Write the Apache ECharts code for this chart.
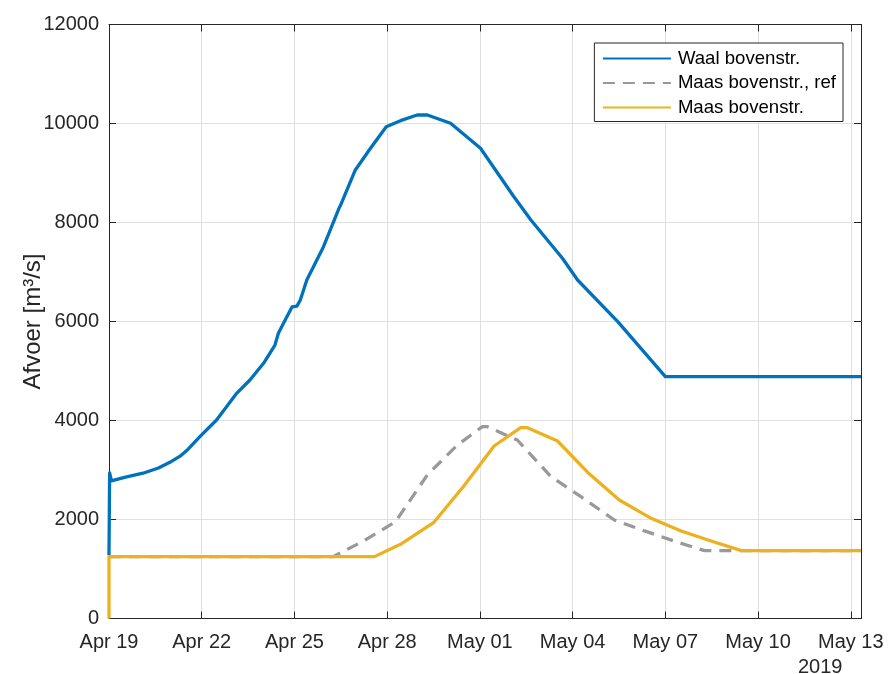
<!DOCTYPE html>
<html>
<head>
<meta charset="utf-8">
<script src="https://cdn.jsdelivr.net/npm/echarts@6/dist/echarts.min.js"></script>
<style>
  html, body { margin: 0; padding: 0; background: #fff; }
  #chart { width: 888px; height: 674px; }
</style>
</head>
<body>
<div id="chart"></div>
<script>
// Time is counted in days since 19 April 2019 00:00 (UTC)
const startDate = Date.UTC(2019, 3, 19);
const monthNames = ['Jan', 'Feb', 'Mar', 'Apr', 'May', 'Jun', 'Jul', 'Aug', 'Sep', 'Oct', 'Nov', 'Dec'];
const xMaxDays = 24.33;
const yTicks = [0, 2000, 4000, 6000, 8000, 10000, 12000];
const yearLabel = '2019';

const seriesNames = ['Waal bovenstr.', 'Maas bovenstr., ref', 'Maas bovenstr.'];

// Waal upstream discharge [m3/s]
const waalDays = [0, 0.02, 0.08, 0.5, 1.1, 1.6, 1.97, 2.3, 2.56, 2.94, 3.48, 4.13, 4.56, 5.0, 5.37, 5.48,
  5.7, 5.92, 6.08, 6.19, 6.4, 6.94, 7.45, 7.5, 7.97, 8.46, 8.97, 9.43, 9.97, 10.3, 11.05, 12.02,
  13.1, 13.65, 14.67, 15.16, 16.46, 18.0, 24.33];
const waalFlow = [1280, 2940, 2780, 2850, 2935, 3040, 3155, 3280, 3420, 3673, 4010, 4549, 4818, 5155, 5525, 5762,
  6030, 6295, 6310, 6434, 6838, 7511, 8300, 8360, 9061, 9499, 9935, 10057, 10172, 10172, 10004, 9500,
  8521, 8051, 7277, 6838, 5996, 4885, 4885];

// Maas upstream discharge, reference run [m3/s]
const maasRefDays = [0, 7.25, 8.25, 9.27, 10.3, 11.27, 12.08, 12.24, 13.21, 14.3, 15.27, 16.35, 17.3, 18.3, 19.27, 24.33];
const maasRefFlow = [1250, 1250, 1570, 1956, 2900, 3505, 3875, 3875, 3606, 2865, 2461, 1990, 1775, 1560, 1370, 1370];

// Maas upstream discharge [m3/s]
const maasDays = [0, 0, 8.59, 9.43, 10.5, 11.48, 12.46, 13.32, 13.54, 14.51, 15.49, 16.51, 17.54, 18.51, 19.48, 20.46, 24.33];
const maasFlow = [0, 1250, 1250, 1499, 1935, 2677, 3485, 3855, 3855, 3586, 2950, 2394, 2024, 1768, 1566, 1370, 1370];

const pairs = (xs, ys) => xs.map((x, i) => [x, ys[i]]);

function dateLabel(v) {
  const r = Math.round(v);
  if (Math.abs(v - r) > 1e-6 || r % 3 !== 0) return '';
  const d = new Date(startDate + r * 86400000);
  const day = d.getUTCDate();
  return monthNames[d.getUTCMonth()] + ' ' + (day < 10 ? '0' + day : day);
}

const axisColor = '#262626';
const gridColor = '#dfdfdf';
const fontFamily = '"Liberation Sans", Arial, Helvetica, sans-serif';
const lineWidth = 3.3;

const chart = echarts.init(document.getElementById('chart'), null, { renderer: 'canvas' });

chart.setOption({
  animation: false,
  backgroundColor: '#ffffff',
  textStyle: { fontFamily: fontFamily },
  grid: { left: 109, right: 27, top: 24.5, bottom: 55.5, containLabel: false },
  legend: {
    orient: 'vertical',
    right: 45,
    top: 43,
    padding: [6, 7, 4.5, 7.5],
    itemWidth: 68,
    itemHeight: 18,
    itemGap: 5.5,
    backgroundColor: '#ffffff',
    borderColor: axisColor,
    borderWidth: 1,
    borderRadius: 0,
    itemStyle: { opacity: 0 },
    textStyle: { fontSize: 18.6, color: '#000', fontFamily: fontFamily, padding: [0, 0, 0, 2] },
    data: seriesNames
  },
  xAxis: [
    {
      type: 'value', min: 0, max: xMaxDays, interval: 3,
      axisLine: { show: true, onZero: false, lineStyle: { color: axisColor, width: 1 } },
      axisTick: { show: true, inside: true, length: 7, lineStyle: { color: axisColor } },
      axisLabel: { show: true, margin: 14, fontSize: 20, color: axisColor, formatter: dateLabel, showMaxLabel: false },
      splitLine: { show: true, lineStyle: { color: gridColor, width: 1 } }
    },
    {
      type: 'value', position: 'top', min: 0, max: xMaxDays, interval: 3,
      axisLine: { show: true, onZero: false, lineStyle: { color: axisColor, width: 1 } },
      axisTick: { show: true, inside: true, length: 7, lineStyle: { color: axisColor } },
      axisLabel: { show: false },
      splitLine: { show: false }
    }
  ],
  yAxis: [
    {
      type: 'value', min: yTicks[0], max: yTicks[yTicks.length - 1], interval: yTicks[1] - yTicks[0],
      name: 'Afvoer [m³/s]',
      nameLocation: 'middle',
      nameGap: 64,
      nameMoveOverlap: false,
      nameTextStyle: { fontSize: 24, color: axisColor, fontFamily: fontFamily },
      axisLine: { show: true, onZero: false, lineStyle: { color: axisColor, width: 1 } },
      axisTick: { show: true, inside: true, length: 7, lineStyle: { color: axisColor } },
      axisLabel: { show: true, margin: 10, fontSize: 20, color: axisColor, formatter: (v) => String(v) },
      splitLine: { show: true, lineStyle: { color: gridColor, width: 1 } }
    },
    {
      type: 'value', position: 'right', min: yTicks[0], max: yTicks[yTicks.length - 1], interval: yTicks[1] - yTicks[0],
      axisLine: { show: true, onZero: false, lineStyle: { color: axisColor, width: 1 } },
      axisTick: { show: true, inside: true, length: 7, lineStyle: { color: axisColor } },
      axisLabel: { show: false },
      splitLine: { show: false }
    }
  ],
  series: [
    {
      name: seriesNames[0], type: 'line', symbol: 'none', showSymbol: false,
      data: pairs(waalDays, waalFlow),
      itemStyle: { color: '#0072BD' },
      lineStyle: { color: '#0072BD', width: lineWidth, join: 'round' }
    },
    {
      name: seriesNames[1], type: 'line', symbol: 'none', showSymbol: false,
      data: pairs(maasRefDays, maasRefFlow),
      itemStyle: { color: '#999999' },
      lineStyle: { color: '#999999', width: lineWidth, type: [12, 8] }
    },
    {
      name: seriesNames[2], type: 'line', symbol: 'none', showSymbol: false,
      data: pairs(maasDays, maasFlow),
      itemStyle: { color: '#EDB120' },
      lineStyle: { color: '#EDB120', width: lineWidth, join: 'round' }
    }
  ],
  graphic: [
    {
      type: 'text', left: 798, top: 657,
      style: { text: yearLabel, fontSize: 20, fill: axisColor, fontFamily: fontFamily }
    }
  ]
});
</script>
</body>
</html>
